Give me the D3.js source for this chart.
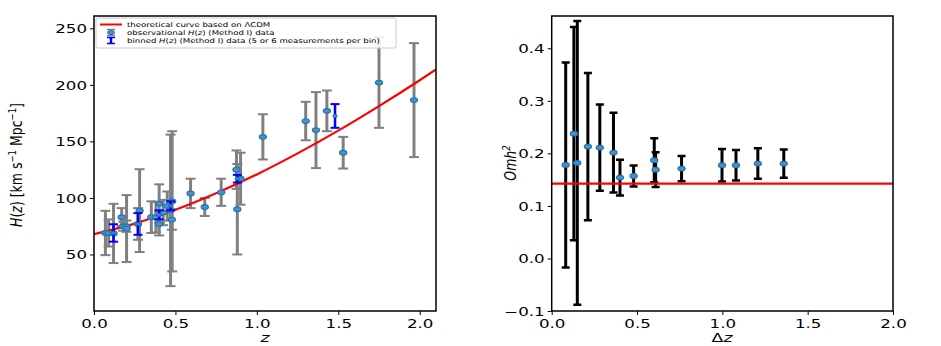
<!DOCTYPE html>
<html><head><meta charset="utf-8">
<script src="https://cdn.jsdelivr.net/npm/d3@7"></script>
<style>body{margin:0;background:#fff}svg{display:block}text{font-family:"DejaVu Sans",sans-serif;fill:#000}</style>
</head><body><svg id="c" width="941" height="346"></svg>
<script>
// ---- data ----
const obsZ   = [0.07,0.09,0.12,0.17,0.179,0.199,0.2,0.27,0.28,0.352,0.3802,0.4,0.4004,0.4247,0.4497,0.47,0.4783,0.48,0.593,0.68,0.781,0.875,0.88,0.9,1.037,1.3,1.363,1.43,1.53,1.75,1.965];
const obsH   = [69,69,68.6,83,75,75,72.9,77,88.8,83,83,95,77,87.1,92.8,89,80.9,97,104,92,105,125,90,117,154,168,160,177,140,202,186.5];
const obsErr = [19.6,12,26.2,8,4,5,29.6,14,36.6,14,13.5,17,10.2,11.2,12.9,67,9,62,13,8,12,17,40,23,20,17,33.6,18,14,40,50.4];
const binZ   = [0.12,0.27,0.40,0.47,0.88,1.48];
const binH   = [69,77,85,93,117,172.5];
const binErr = [7.7,9.6,4,4,3.4,10.5];
const modelZ = [0,0.25,0.5,0.75,1.0,1.25,1.5,1.75,2.0,2.1];
const modelH = [68,77.3,89.5,104.1,120.8,139.4,159.5,181.2,204.1,213.6];
const dz     = [0.082,0.13,0.15,0.212,0.282,0.362,0.40,0.48,0.601,0.609,0.761,0.998,1.08,1.208,1.36];
const omh2   = [0.178,0.2376,0.182,0.2129,0.211,0.2015,0.154,0.157,0.187,0.169,0.171,0.1774,0.1774,0.1806,0.1806];
const omh2Err= [0.195,0.203,0.27,0.14,0.082,0.076,0.034,0.02,0.042,0.033,0.024,0.031,0.029,0.029,0.027];
const omh2Ref = 0.1426;
const xTicksL = [0,0.5,1,1.5,2];
const yTicksL = [50,100,150,200,250];
const xTicksR = [0,0.5,1,1.5,2];
const yTicksR = [-0.1,0,0.1,0.2,0.3,0.4];
const legendLabels = ["theoretical curve based on ΛCDM","observational H(z) (Method I) data","binned H(z) (Method I) data (5 or 6 measurements per bin)"];

// ---- layout ----
const SX = 1.45;      // horizontal glyph stretch of the reference
const svg = d3.select("#c");
const TOP = 16, BOT = 311;
const xL = d3.scaleLinear().domain([0,2.1]).range([94,436]);
const yL = d3.scaleLinear().domain([0,260.9]).range([BOT,TOP]);
const xR = d3.scaleLinear().domain([0,2.0]).range([551.7,893]);
const yR = d3.scaleLinear().domain([-0.1,0.4615]).range([BOT,TOP]);
const fmt1 = d3.format(".1f");
const fmtY = v => (v<0?"\u2212":"")+fmt1(Math.abs(v));

function styleAxis(g, orient){
  g.select(".domain").remove();
  g.selectAll(".tick line").attr("stroke","#000").attr("stroke-width",1);
  g.selectAll(".tick text").attr("font-size",11.5).attr("fill","#000")
    .attr("transform",`scale(${SX},1)`)
    .each(function(){
      const t=d3.select(this);
      if(orient==="left"){t.attr("x",-7/SX).attr("dy","0.36em");}
      else {t.attr("y",7).attr("dy","0.9em");}
    });
}
function panel(x,y,xt,yt,yfmt){
  svg.append("g").attr("transform",`translate(0,${BOT})`)
    .call(d3.axisBottom(x).tickValues(xt).tickFormat(fmt1).tickSize(4).tickPadding(4))
    .call(g=>styleAxis(g,"bottom"));
  svg.append("g").attr("transform",`translate(${x.range()[0]},0)`)
    .call(d3.axisLeft(y).tickValues(yt).tickFormat(yfmt).tickSize(4).tickPadding(4))
    .call(g=>styleAxis(g,"left"));
}
panel(xL,yL,xTicksL,yTicksL,d3.format("d"));
panel(xR,yR,xTicksR,yTicksR,fmtY);

function errbars(g, xs, ys, es, x, y, color, lw, capw, capLw){
  const gg = g.append("g");
  xs.forEach((v,i)=>{
    const cx=x(v), y1=y(ys[i]-es[i]), y2=y(ys[i]+es[i]);
    gg.append("line").attr("x1",cx).attr("x2",cx).attr("y1",y1).attr("y2",y2)
      .attr("stroke",color).attr("stroke-width",lw);
    [y1,y2].forEach(yy=>gg.append("line").attr("x1",cx-capw/2).attr("x2",cx+capw/2)
      .attr("y1",yy).attr("y2",yy).attr("stroke",color).attr("stroke-width",capLw));
  });
}
function markers(g, xs, ys, x, y, rx, ry){
  g.append("g").selectAll("ellipse").data(xs).join("ellipse")
    .attr("cx",d=>x(d)).attr("cy",(d,i)=>y(ys[i])).attr("rx",rx).attr("ry",ry)
    .attr("fill","#4f8fc4").attr("stroke","#1f77b4").attr("stroke-width",1.2);
}

// ---- left panel ----
svg.append("clipPath").attr("id","clipL").append("rect").attr("x",94).attr("y",TOP).attr("width",342).attr("height",BOT-TOP);
svg.append("clipPath").attr("id","clipR").append("rect").attr("x",551.7).attr("y",TOP).attr("width",341.3).attr("height",BOT-TOP);
const gL = svg.append("g").attr("clip-path","url(#clipL)");
errbars(gL, obsZ, obsH, obsErr, xL, yL, "#808080", 3, 10, 2);
gL.append("path").datum(modelZ.map((z,i)=>[z,modelH[i]]))
  .attr("d",d3.line().x(d=>xL(d[0])).y(d=>yL(d[1])).curve(d3.curveMonotoneX))
  .attr("fill","none").attr("stroke","#ff0000").attr("stroke-width",2.2);
markers(gL, obsZ, obsH, xL, yL, 3.6, 2.3);
errbars(gL, binZ, binH, binErr, xL, yL, "#0000ff", 2.5, 9, 2);
markers(gL, binZ, binH, xL, yL, 2, 1.3);

// frame
svg.append("rect").attr("x",94).attr("y",TOP).attr("width",342).attr("height",BOT-TOP)
  .attr("fill","none").attr("stroke","#000").attr("stroke-width",1.5);

// legend
const lg = svg.append("g");
lg.append("rect").attr("x",96).attr("y",18).attr("width",300).attr("height",30).attr("rx",2)
  .attr("fill","#fff").attr("fill-opacity",0.85).attr("stroke","#cccccc").attr("stroke-width",1);
lg.append("line").attr("x1",100).attr("x2",122).attr("y1",24.5).attr("y2",24.5).attr("stroke","#ff0000").attr("stroke-width",2);
// obs handle
lg.append("line").attr("x1",111).attr("x2",111).attr("y1",29.5).attr("y2",35.5).attr("stroke","#808080").attr("stroke-width",3);
[29.5,35.5].forEach(yy=>lg.append("line").attr("x1",107).attr("x2",115).attr("y1",yy).attr("y2",yy).attr("stroke","#808080").attr("stroke-width",1.5));
lg.append("ellipse").attr("cx",111).attr("cy",32.5).attr("rx",3.5).attr("ry",2).attr("fill","#4f8fc4").attr("stroke","#1f77b4");
lg.append("line").attr("x1",111).attr("x2",111).attr("y1",37.5).attr("y2",43.5).attr("stroke","#0000ff").attr("stroke-width",2.5);
[37.5,43.5].forEach(yy=>lg.append("line").attr("x1",107).attr("x2",115).attr("y1",yy).attr("y2",yy).attr("stroke","#0000ff").attr("stroke-width",1.5));
const ltxt = (i,y)=>lg.append("text").attr("transform",`translate(127,${y}) scale(1.3,1)`).attr("font-size",6.6);
ltxt(0,26.8).text(legendLabels[0]);
{const t=ltxt(1,34.8); t.append("tspan").text("observational ");t.append("tspan").attr("font-style","italic").text("H");t.append("tspan").text("(");t.append("tspan").attr("font-style","italic").text("z");t.append("tspan").text(") (Method I) data");}
{const t=ltxt(2,42.8); t.append("tspan").text("binned ");t.append("tspan").attr("font-style","italic").text("H");t.append("tspan").text("(");t.append("tspan").attr("font-style","italic").text("z");t.append("tspan").text(") (Method I) data (5 or 6 measurements per bin)");}

// axis labels left
{const t=svg.append("text").attr("transform",`translate(22,165) scale(1.25,1) rotate(-90)`).attr("text-anchor","middle").attr("font-size",12.5);
 t.append("tspan").attr("font-style","italic").text("H");t.append("tspan").text("(");
 t.append("tspan").attr("font-style","italic").text("z");t.append("tspan").text(") [km s");
 t.append("tspan").attr("dy",-5).attr("font-size",8.5).text("\u22121");
 t.append("tspan").attr("dy",5).text(" Mpc");
 t.append("tspan").attr("dy",-5).attr("font-size",8.5).text("\u22121");
 t.append("tspan").attr("dy",5).text("]");}
svg.append("text").attr("transform",`translate(265,342) scale(${SX},1)`).attr("text-anchor","middle").attr("font-size",12).attr("font-style","italic").text("z");

// ---- right panel ----
const gR = svg.append("g").attr("clip-path","url(#clipR)");
errbars(gR, dz, omh2, omh2Err, xR, yR, "#000", 3, 8, 2.5);
gR.append("line").attr("x1",xR(0)).attr("x2",xR(2)).attr("y1",yR(omh2Ref)).attr("y2",yR(omh2Ref))
  .attr("stroke","#ff0000").attr("stroke-width",2.2);
markers(gR, dz, omh2, xR, yR, 3.6, 2.3);
svg.append("rect").attr("x",551.7).attr("y",TOP).attr("width",341.3).attr("height",BOT-TOP)
  .attr("fill","none").attr("stroke","#000").attr("stroke-width",1.5);
{const t=svg.append("text").attr("transform",`translate(516,163) scale(1.25,1) rotate(-90)`).attr("text-anchor","middle").attr("font-size",12.5).attr("font-style","italic");
 t.append("tspan").text("Omh");t.append("tspan").attr("dy",-5).attr("font-size",8.5).text("2");}
{const t=svg.append("text").attr("transform",`translate(722,342) scale(${SX},1)`).attr("text-anchor","middle").attr("font-size",12);
 t.append("tspan").text("Δ");t.append("tspan").attr("font-style","italic").text("z");}
</script></body></html>
